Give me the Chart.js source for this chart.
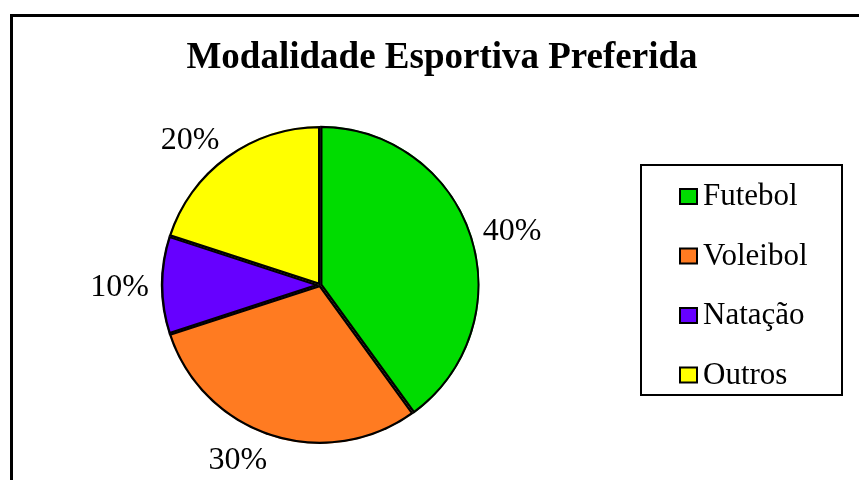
<!DOCTYPE html>
<html>
<head>
<meta charset="utf-8">
<title>Modalidade Esportiva Preferida</title>
<script src="https://cdn.jsdelivr.net/npm/chart.js@4.4.1/dist/chart.umd.min.js"></script>
<style>
  html, body { margin: 0; padding: 0; background: #fff; }
  #wrap { width: 859px; height: 480px; }
</style>
</head>
<body>
<div id="wrap"><canvas id="pie" width="859" height="480"></canvas></div>
<script>
// ── Data ────────────────────────────────────────────────────────────────
const TITLE      = "Modalidade Esportiva Preferida";
const CATEGORIES = ["Futebol", "Voleibol", "Natação", "Outros"];
const VALUES     = [40, 30, 10, 20];          // %
const COLORS     = ["#00dc00", "#ff7b21", "#6600ff", "#ffff00"];
const OFFSETS    = [2, 0, 0, 0];              // Futebol slightly pulled out

const SERIF = '"Liberation Serif", "Times New Roman", serif';

// frame + title drawn behind the pie
const framePlugin = {
    id: "frame",
    beforeDraw(chart) {
        const ctx = chart.ctx;
        ctx.save();
        ctx.fillStyle = "#fff";
        ctx.fillRect(0, 0, chart.width, chart.height);
        ctx.strokeStyle = "#000";
        ctx.lineWidth = 3;
        ctx.strokeRect(11.5, 15.5, chart.width + 20, chart.height + 20);
        ctx.fillStyle = "#000";
        ctx.font = "bold 37px " + SERIF;
        ctx.textAlign = "center";
        ctx.textBaseline = "alphabetic";
        ctx.fillText(TITLE, 442, 68);
        ctx.restore();
    }
};

// percent labels outside each slice (Excel "outside end" style)
const pctLabelPlugin = {
    id: "pctLabels",
    afterDatasetsDraw(chart) {
        const ctx  = chart.ctx;
        const meta = chart.getDatasetMeta(0);
        ctx.save();
        ctx.font = "32px " + SERIF;
        ctx.fillStyle = "#000";
        ctx.textAlign = "center";
        ctx.textBaseline = "alphabetic";
        meta.data.forEach((arc, i) => {
            const p   = arc.getProps(["x", "y", "startAngle", "endAngle", "outerRadius"], true);
            const mid = (p.startAngle + p.endAngle) / 2;
            const dx  = Math.cos(mid), dy = Math.sin(mid);
            const txt = VALUES[i] + "%";
            const w   = ctx.measureText(txt).width;
            const h   = 22;
            const ax  = p.x + dx * (p.outerRadius + 12);
            const ay  = p.y + dy * (p.outerRadius + 12);
            const sx  = Math.abs(dx) < 0.05 ? 0 : Math.sign(dx);
            const cx  = ax + sx * w / 2;
            const cy  = ay + dy * h / 2;
            ctx.fillText(txt, cx, cy + 11);
        });
        ctx.restore();
    }
};

// boxed legend on the right
const boxLegendPlugin = {
    id: "boxLegend",
    afterDraw(chart) {
        const ctx = chart.ctx;
        ctx.save();
        ctx.strokeStyle = "#000";
        ctx.lineWidth = 2;
        ctx.strokeRect(641, 165, 201, 230);
        ctx.font = "31px " + SERIF;
        ctx.textAlign = "left";
        ctx.textBaseline = "alphabetic";
        CATEGORIES.forEach((name, i) => {
            const base = 205 + i * 59.5;
            ctx.fillStyle = COLORS[i];
            ctx.fillRect(680, base - 16, 17, 15);
            ctx.lineWidth = 2;
            ctx.strokeRect(680, base - 16, 17, 15);
            ctx.fillStyle = "#000";
            ctx.fillText(name, 703, base);
        });
        ctx.restore();
    }
};

new Chart(document.getElementById("pie"), {
    type: "pie",
    data: {
        labels: CATEGORIES,
        datasets: [{
            data: VALUES,
            backgroundColor: COLORS,
            borderColor: "#000",
            borderWidth: 2,
            borderAlign: "inner",
            offset: OFFSETS,
            hoverOffset: 0,
        }],
    },
    options: {
        responsive: false,
        animation: false,
        events: [],
        layout: { padding: { left: 160, right: 379, top: 125, bottom: 35 } },
        plugins: {
            legend: { display: false },
            title: { display: false },
            tooltip: { enabled: false },
        },
    },
    plugins: [framePlugin, pctLabelPlugin, boxLegendPlugin],
});
</script>
</body>
</html>
